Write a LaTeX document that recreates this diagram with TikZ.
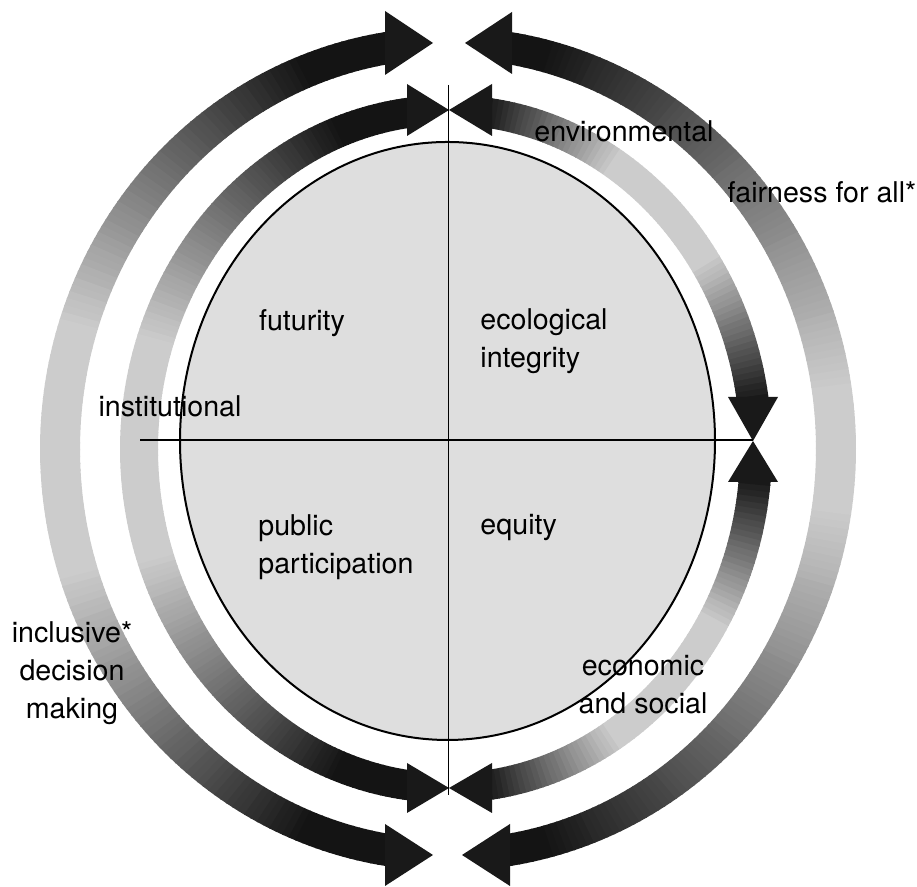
\documentclass[tikz,border=0pt]{standalone}
\usepackage{fontspec}
\setmainfont{TeX Gyre Heros}
\tikzstyle{every node}=[inner sep=0pt,font=\fontsize{14.3}{19}\selectfont]
\tikzstyle{quadtext}=[align=left]
\tikzstyle{ringtext}=[align=center]
\tikzstyle{headfill}=[fill=black!90]
\tikzstyle{axis}=[line width=0.9pt]

\newcommand{\shadedband}[8]{%
  \pgfmathtruncatemacro\bandlast{#6-1}
  \foreach \ang in {#5,...,\bandlast}{
    \pgfmathsetmacro\e{min(\ang+0.5-(#5),(#6)-\ang-0.5)}
    \pgfmathtruncatemacro\p{max(20,min(92,92-#8*(\e-#7)))}
    \fill[black!\p] (\ang:#1 and #2) -- (\ang+1.2:#1 and #2)
      -- (\ang+1.2:#3 and #4) -- (\ang:#3 and #4) -- cycle;
  }}

\begin{document}
\begin{tikzpicture}[x=0.5pt,y=0.5pt]
\useasboundingbox (0,0) rectangle (917,887);

\begin{scope}[shift={(448,438)}]
  \shadedband{408}{422}{368}{390}{98}{262}{14}{1.42}
  \shadedband{328}{354}{290}{324}{97}{263}{14}{1.42}
  \shadedband{408}{422}{368}{390}{-82}{82}{7}{1.08}
  \shadedband{324}{354}{292}{324}{8}{83}{0}{2.8}
  \shadedband{324}{354}{292}{324}{-83}{-5}{0}{2.8}
\end{scope}

\fill[headfill] (433,844) -- (385,876) -- (385,812) -- cycle;
\fill[headfill] (465,844) -- (512,875) -- (512,813) -- cycle;
\fill[headfill] (433,32) -- (385,63) -- (385,1) -- cycle;
\fill[headfill] (462,32) -- (510,63) -- (510,1) -- cycle;
\fill[headfill] (449,777) -- (407,803) -- (407,751) -- cycle;
\fill[headfill] (449,777) -- (492,803) -- (492,751) -- cycle;
\fill[headfill] (449,99) -- (407,124) -- (407,74) -- cycle;
\fill[headfill] (449,99) -- (492,124) -- (492,74) -- cycle;
\fill[headfill] (753,446) -- (728,490) -- (778,490) -- cycle;
\fill[headfill] (753,446) -- (728,405) -- (778,405) -- cycle;

\coordinate (centre) at (447.5,446);
\draw[line width=1pt,fill=black!13] (centre) ellipse (267.5 and 299);

\coordinate (west) at (140,447);
\coordinate (east) at (753,447);
\coordinate (north) at (448.5,802);
\coordinate (south) at (448.5,92);
\draw[axis] (west) -- (east);
\draw[axis] (north) -- (south);

\node[anchor=base] (futurity) at (302,556) {futurity};
\node[quadtext,anchor=west] (ecology) at (480,545.5) {ecological\\integrity};
\node[quadtext,anchor=west] (public) at (258,340) {public\\participation};
\node[anchor=base west] (equity) at (480,352) {equity};
\node[anchor=base] (institutional) at (170,470) {institutional};
\node[anchor=base] (environmental) at (624,745) {environmental};
\node[anchor=base] (fairness) at (822,684) {fairness for all*};
\node[ringtext] (inclusive) at (72,213.5) {inclusive*\\decision\\making};
\node[ringtext] (economic) at (643,202) {economic\\and social};
\end{tikzpicture}
\end{document}
